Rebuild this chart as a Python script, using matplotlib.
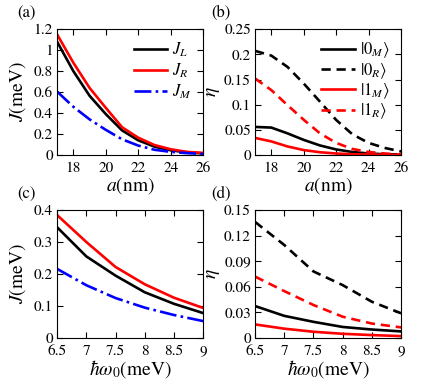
import matplotlib
matplotlib.use("Agg")
import matplotlib.pyplot as plt

plt.rcParams['font.family'] = 'STIXGeneral'
plt.rcParams['mathtext.fontset'] = 'stix'
plt.rcParams['font.size'] = 11

# panel (a)/(b): distance a (nm)
a_nm = [17, 18, 19, 20, 21, 22, 23, 24, 25, 26]
J_L = [1.08, 0.80, 0.565, 0.39, 0.235, 0.14, 0.08, 0.045, 0.025, 0.015]
J_R = [1.15, 0.88, 0.64, 0.45, 0.265, 0.165, 0.095, 0.055, 0.03, 0.02]
J_M = [0.605, 0.46, 0.34, 0.24, 0.15, 0.09, 0.05, 0.03, 0.018, 0.01]

eta_0M_a = [0.0558, 0.0545, 0.043, 0.030, 0.019, 0.011, 0.006, 0.003, 0.0015, 0.001]
eta_0R_a = [0.207, 0.1975, 0.175, 0.142, 0.106, 0.0696, 0.041, 0.024, 0.014, 0.007]
eta_1M_a = [0.034, 0.027, 0.017, 0.0098, 0.0055, 0.003, 0.0015, 0.001, 0.0005, 0.0003]
eta_1R_a = [0.152, 0.129, 0.099, 0.070, 0.043, 0.024, 0.012, 0.006, 0.003, 0.001]

# panel (c)/(d): confinement energy hbar*omega0 (meV)
w0 = [6.5, 7.0, 7.5, 8.0, 8.5, 9.0]
Jc_L = [0.346, 0.255, 0.195, 0.143, 0.107, 0.078]
Jc_R = [0.384, 0.300, 0.222, 0.168, 0.126, 0.094]
Jc_M = [0.216, 0.165, 0.125, 0.095, 0.072, 0.053]

eta_0M_w = [0.0375, 0.026, 0.019, 0.013, 0.010, 0.0078]
eta_0R_w = [0.136, 0.109, 0.078, 0.062, 0.0425, 0.029]
eta_1M_w = [0.016, 0.011, 0.0074, 0.005, 0.0035, 0.0023]
eta_1R_w = [0.072, 0.055, 0.0387, 0.025, 0.017, 0.0125]

fig = plt.figure(figsize=(4.36, 3.79), dpi=100)
axa = fig.add_axes([0.131, 0.591, 0.335, 0.332])
axb = fig.add_axes([0.585, 0.591, 0.335, 0.332])
axc = fig.add_axes([0.131, 0.108, 0.335, 0.338])
axd = fig.add_axes([0.585, 0.108, 0.335, 0.338])

lw = 1.9
dash = (0, (3.5, 2.2))
lab = 14

# (a)
axa.plot(a_nm, J_L, color='k', lw=lw, label='$J_L$')
axa.plot(a_nm, J_R, color='r', lw=lw, label='$J_R$')
axa.plot(a_nm, J_M, color='b', lw=lw, ls='-.', label='$J_M$')
axa.set_xlim(17, 26)
axa.set_ylim(0, 1.2)
axa.set_xticks([18, 20, 22, 24, 26])
axa.set_yticks([0, 0.2, 0.4, 0.6, 0.8, 1.0, 1.2])
axa.set_yticklabels(['0', '0.2', '0.4', '0.6', '0.8', '1', '1.2'])
axa.set_xlabel('$a$(nm)', fontsize=lab, labelpad=0)
axa.set_ylabel('$J$(meV)', fontsize=lab)
axa.legend(loc='upper right', frameon=False, fontsize=12, handlelength=2.0,
           handletextpad=0.3, labelspacing=0.15, borderaxespad=0.3)

# (b)
axb.plot(a_nm, eta_0M_a, color='k', lw=lw, label=r'$|0_M\rangle$')
axb.plot(a_nm, eta_0R_a, color='k', lw=lw, ls=dash, label=r'$|0_R\rangle$')
axb.plot(a_nm, eta_1M_a, color='r', lw=lw, label=r'$|1_M\rangle$')
axb.plot(a_nm, eta_1R_a, color='r', lw=lw, ls=dash, label=r'$|1_R\rangle$')
axb.set_xlim(17, 26)
axb.set_ylim(0, 0.25)
axb.set_xticks([18, 20, 22, 24, 26])
axb.set_yticks([0, 0.05, 0.1, 0.15, 0.2, 0.25])
axb.set_yticklabels(['0', '0.05', '0.1', '0.15', '0.2', '0.25'])
axb.set_xlabel('$a$(nm)', fontsize=lab, labelpad=0)
axb.set_ylabel(r'$\eta$', fontsize=lab)
axb.legend(loc='upper right', frameon=False, fontsize=12, handlelength=2.0,
           handletextpad=0.3, labelspacing=0.05, borderaxespad=0.3)

# (c)
axc.plot(w0, Jc_L, color='k', lw=lw)
axc.plot(w0, Jc_R, color='r', lw=lw)
axc.plot(w0, Jc_M, color='b', lw=lw, ls='-.')
axc.set_xlim(6.5, 9)
axc.set_ylim(0, 0.4)
axc.set_xticks([6.5, 7, 7.5, 8, 8.5, 9])
axc.set_xticklabels(['6.5', '7', '7.5', '8', '8.5', '9'])
axc.set_yticks([0, 0.1, 0.2, 0.3, 0.4])
axc.set_yticklabels(['0', '0.1', '0.2', '0.3', '0.4'])
axc.set_xlabel(r'$\hbar\omega_0$(meV)', fontsize=lab, labelpad=0)
axc.set_ylabel('$J$(meV)', fontsize=lab)

# (d)
axd.plot(w0, eta_0M_w, color='k', lw=lw)
axd.plot(w0, eta_0R_w, color='k', lw=lw, ls=dash)
axd.plot(w0, eta_1M_w, color='r', lw=lw)
axd.plot(w0, eta_1R_w, color='r', lw=lw, ls=dash)
axd.set_xlim(6.5, 9)
axd.set_ylim(0, 0.15)
axd.set_xticks([6.5, 7, 7.5, 8, 8.5, 9])
axd.set_xticklabels(['6.5', '7', '7.5', '8', '8.5', '9'])
axd.set_yticks([0, 0.03, 0.06, 0.09, 0.12, 0.15])
axd.set_yticklabels(['0', '0.03', '0.06', '0.09', '0.12', '0.15'])
axd.set_xlabel(r'$\hbar\omega_0$(meV)', fontsize=lab, labelpad=0)
axd.set_ylabel(r'$\eta$', fontsize=lab)

for ax in (axa, axb, axc, axd):
    ax.tick_params(direction='in', top=True, right=True, length=4, width=0.8)
    ax.tick_params(axis='x', pad=5)
    ax.tick_params(axis='y', pad=3)
    for s in ax.spines.values():
        s.set_linewidth(0.8)

axa.yaxis.set_label_coords(-0.2, 0.5)
axc.yaxis.set_label_coords(-0.2, 0.5)
axb.yaxis.set_label_coords(-0.225, 0.5)
axd.yaxis.set_label_coords(-0.225, 0.5)

fig.text(0.04, 0.955, '(a)', fontsize=12)
fig.text(0.485, 0.955, '(b)', fontsize=12)
fig.text(0.04, 0.478, '(c)', fontsize=12)
fig.text(0.485, 0.478, '(d)', fontsize=12)

fig.savefig('out.png', dpi=100)
